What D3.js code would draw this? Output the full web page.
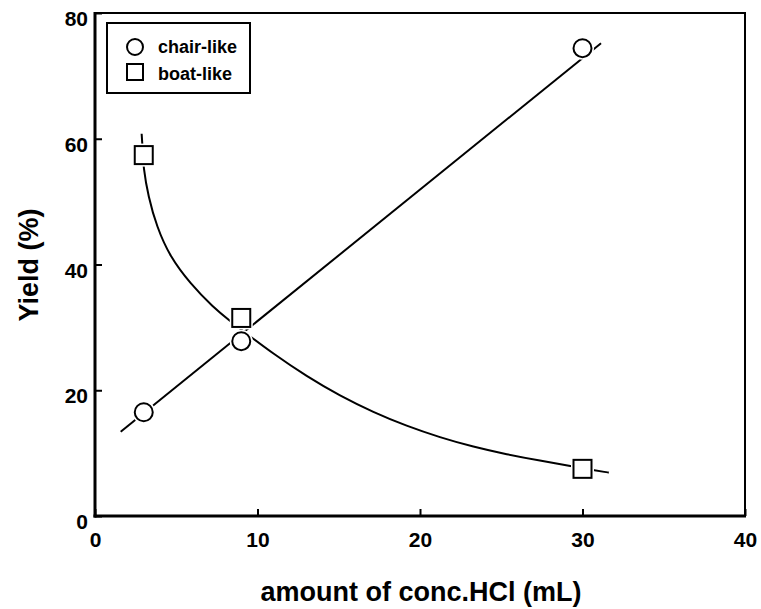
<!DOCTYPE html>
<html>
<head>
<meta charset="utf-8">
<script src="https://cdn.jsdelivr.net/npm/d3@7"></script>
<style>
  html, body { margin: 0; padding: 0; background: #fff; }
  svg { display: block; font-family: "Liberation Sans", Arial, sans-serif; }
</style>
</head>
<body>
<svg id="chart" width="761" height="609"></svg>
<script>
// ---- data ----
const xTicks = [0, 10, 20, 30, 40];
const yTicks = [0, 20, 40, 60, 80];
const seriesNames = ["chair-like", "boat-like"];
const hclAmount = [3, 9, 30];
const chairYield = [16.5, 27.8, 74.4];
const boatYield = [57.4, 31.5, 7.5];
// straight fit line drawn through the chair-like points (end points)
const chairFitX = [1.58, 31.14];
const chairFitY = [13.4, 75.2];
// smooth curve drawn through the boat-like points (traced points)
const boatCurveX = [2.87, 2.93, 2.97, 3.28, 3.80, 4.62, 5.85, 7.26, 8.41, 9.12, 10.97, 13.03, 15.08, 17.13, 19.18, 21.23, 23.28, 25.34, 27.38, 29.4, 30.0, 31.6, 31.62];
const boatCurveY = [60.8, 58.5, 55.5, 50.8, 46.0, 41.2, 37.0, 33.2, 30.8, 29.4, 25.8, 22.2, 19.1, 16.5, 14.3, 12.5, 11.0, 9.8, 8.8, 7.9, 7.6, 6.9, 6.9];

// ---- layout ----
const svg = d3.select("#chart");
const pL = 95, pR = 745, pT = 13, pB = 516;
const x = d3.scaleLinear().domain([0, 40]).range([pL, pR]);
const y = d3.scaleLinear().domain([0, 80]).range([pB, pT]);

// frame top and right (thinner)
svg.append("line").attr("x1", pL).attr("x2", pR).attr("y1", pT).attr("y2", pT)
  .attr("stroke", "#000").attr("stroke-width", 2);
svg.append("line").attr("x1", pR).attr("x2", pR).attr("y1", pT - 1).attr("y2", pB)
  .attr("stroke", "#000").attr("stroke-width", 2);

// axes
const xAxis = svg.append("g").attr("transform", `translate(0,${pB})`)
  .call(d3.axisBottom(x).tickValues(xTicks).tickSizeInner(-7).tickSizeOuter(0).tickPadding(16).tickFormat(d3.format("d")));
const yAxis = svg.append("g").attr("transform", `translate(${pL},0)`)
  .call(d3.axisLeft(y).tickValues(yTicks).tickSizeInner(-7).tickSizeOuter(0).tickPadding(7).tickFormat(d3.format("d")));
[xAxis, yAxis].forEach(g => {
  g.select(".domain").attr("stroke", "#000").attr("stroke-width", 3);
  g.selectAll(".tick line").attr("stroke", "#000").attr("stroke-width", 2);
  g.selectAll(".tick text").attr("fill", "#000").style("font-size", "21px").style("font-weight", "bold")
    .style("font-family", '"Liberation Sans", Arial, sans-serif');
});
yAxis.selectAll(".tick text").attr("dy", "0.6em");
xAxis.select(".domain").attr("d", `M${pL - 1.5},0H${pR + 1}`);
yAxis.select(".domain").attr("d", `M0,${pB + 1.5}V${pT - 1}`);

// data lines
const plot = svg.append("g");
const lineGen = d3.line().x(d => x(d[0])).y(d => y(d[1]));
plot.append("path")
  .datum(chairFitX.map((v, i) => [v, chairFitY[i]]))
  .attr("d", lineGen).attr("fill", "none").attr("stroke", "#000").attr("stroke-width", 2);
plot.append("path")
  .datum(boatCurveX.map((v, i) => [v, boatCurveY[i]]))
  .attr("d", lineGen.curve(d3.curveBasis))
  .attr("fill", "none").attr("stroke", "#000").attr("stroke-width", 2);

// markers with white halo
const circR = 9, sq = 18;
hclAmount.forEach((v, i) => {
  plot.append("circle").attr("cx", x(v)).attr("cy", y(chairYield[i])).attr("r", circR)
    .attr("fill", "#fff").attr("stroke", "#fff").attr("stroke-width", 5);
  plot.append("circle").attr("cx", x(v)).attr("cy", y(chairYield[i])).attr("r", circR)
    .attr("fill", "#fff").attr("stroke", "#000").attr("stroke-width", 2);
});
hclAmount.forEach((v, i) => {
  plot.append("rect").attr("x", x(v) - sq / 2).attr("y", y(boatYield[i]) - sq / 2)
    .attr("width", sq).attr("height", sq)
    .attr("fill", "#fff").attr("stroke", "#fff").attr("stroke-width", 5);
  plot.append("rect").attr("x", x(v) - sq / 2).attr("y", y(boatYield[i]) - sq / 2)
    .attr("width", sq).attr("height", sq)
    .attr("fill", "#fff").attr("stroke", "#000").attr("stroke-width", 2);
});

// legend
const lg = svg.append("g");
lg.append("rect").attr("x", 107).attr("y", 23).attr("width", 143).attr("height", 70)
  .attr("fill", "#fff").attr("stroke", "#000").attr("stroke-width", 2);
lg.append("circle").attr("cx", 135).attr("cy", 47).attr("r", 8)
  .attr("fill", "#fff").attr("stroke", "#000").attr("stroke-width", 2);
lg.append("rect").attr("x", 127).attr("y", 64).attr("width", 16).attr("height", 16)
  .attr("fill", "#fff").attr("stroke", "#000").attr("stroke-width", 2);
seriesNames.forEach((n, i) => {
  lg.append("text").attr("x", 158).attr("y", 53 + i * 27).text(n)
    .style("font-size", "18px").style("font-weight", "bold");
});

// axis titles
svg.append("text").attr("x", 421).attr("y", 601).attr("text-anchor", "middle")
  .style("font-size", "27px").style("font-weight", "bold").text("amount of conc.HCl (mL)");
svg.append("text").attr("transform", "translate(38,265) rotate(-90)").attr("text-anchor", "middle")
  .style("font-size", "27px").style("font-weight", "bold").text("Yield (%)");
</script>
</body>
</html>
